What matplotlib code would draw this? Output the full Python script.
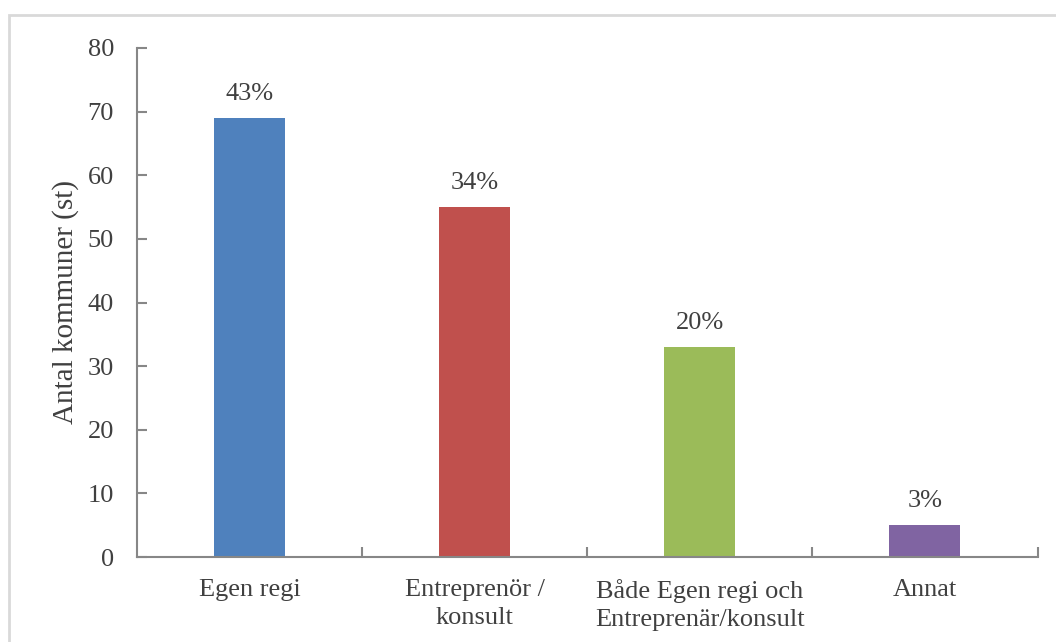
import numpy as np
import matplotlib; matplotlib.use('Agg')
import matplotlib.pyplot as plt
from matplotlib.patches import Rectangle

categories = ['Egen regi', 'Entreprenör /\nkonsult', 'Både Egen regi och\nEntreprenär/konsult', 'Annat']
counts = [69, 55, 33, 5]
pct_labels = ['43%', '34%', '20%', '3%']
colors = ['#4F81BD', '#C0504D', '#9BBB59', '#8064A2']

plt.rcParams['font.family'] = ['Liberation Serif', 'DejaVu Serif']
txt = '#404040'
axc = '#878787'

fig = plt.figure(figsize=(10.56, 6.42), dpi=100)
# light gray frame around the chart area
fig.patches.append(Rectangle((9/1056, -0.1), 1.2, 1 - 15/642 + 0.1, transform=fig.transFigure,
                             fill=False, edgecolor='#d9d9d9', linewidth=2))
ax = fig.add_axes([137/1056, 1 - 557/642, (1037.5 - 137)/1056, (557 - 48)/642])

x = np.arange(len(categories))
ax.bar(x, counts, width=0.315, color=colors)
for xi, v, p in zip(x, counts, pct_labels):
    ax.text(xi, v + 2.0, p, ha='center', va='bottom', fontsize=19, color=txt)

ax.set_xlim(-0.5, len(categories) - 0.5)
ax.set_ylim(0, 80)
ax.set_yticks(range(0, 81, 10))
ax.set_xticks(x)
ax.set_xticklabels(categories, fontsize=19, color=txt, linespacing=1.35)
ax.set_xticks(np.arange(0.5, len(categories), 1), minor=True)
ax.tick_params(axis='x', which='major', length=0, pad=16)
ax.tick_params(axis='x', which='minor', direction='in', length=7, width=1.5, color=axc)
ax.tick_params(axis='y', direction='in', length=7, width=1.5, color=axc,
               labelsize=19, labelcolor=txt, pad=16.5)
ax.set_ylabel('Antal kommuner (st)', fontsize=21, color=txt, labelpad=6)

for s in ['top', 'right']:
    ax.spines[s].set_visible(False)
for s in ['left', 'bottom']:
    ax.spines[s].set_color(axc)
    ax.spines[s].set_linewidth(1.5)

fig.savefig('out.png', dpi=100)
